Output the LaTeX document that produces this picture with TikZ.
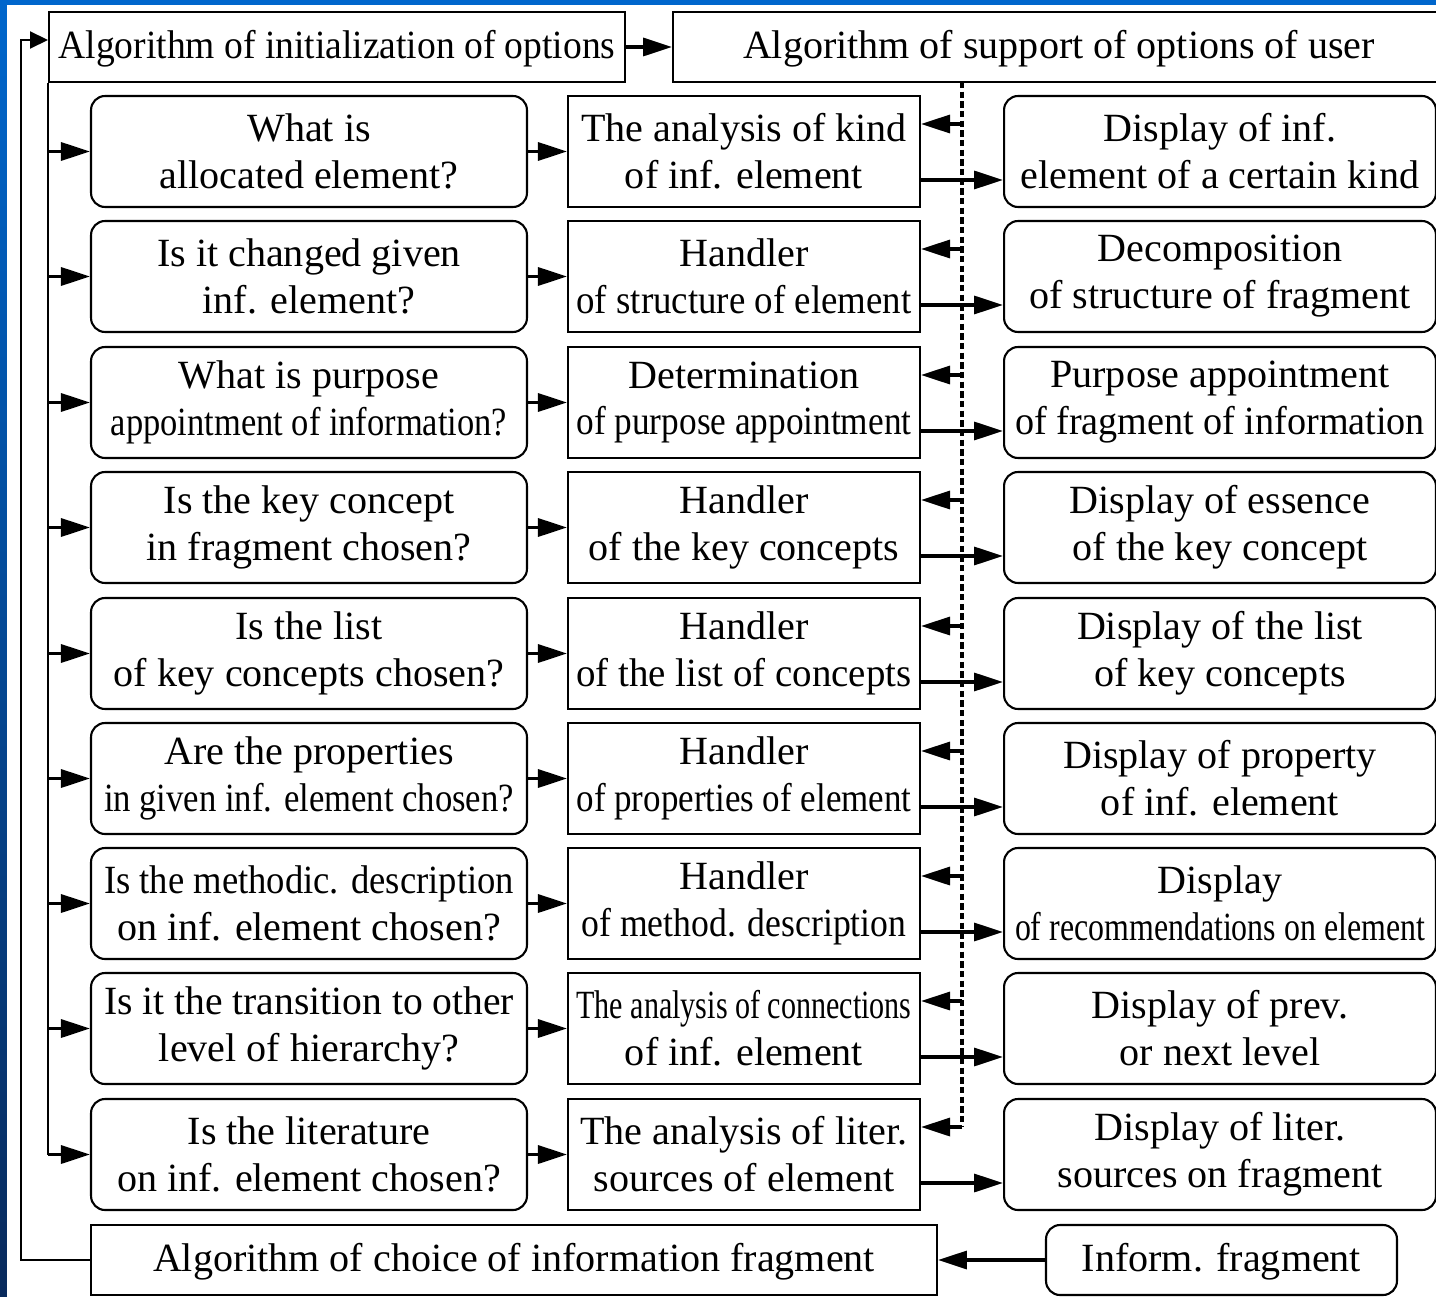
\documentclass[tikz,border=0pt]{standalone}
\usepackage{fontspec}
\setmainfont{Liberation Serif}
\usepackage{graphicx}
\usetikzlibrary{arrows.meta}

\definecolor{slideblue}{RGB}{0,102,204}
\definecolor{slidenavy}{RGB}{8,42,92}

% squeeze a line horizontally when it is wider than \fitmax
\newsavebox\flbox
\newlength\fitmax
\setlength\fitmax{100cm}
\newcommand\fl[1]{\sbox\flbox{#1}%
  \ifdim\wd\flbox>\fitmax
    \pgfmathsetmacro\flratio{\the\fitmax/\the\wd\flbox}%
    \scalebox{\flratio}[1]{\usebox\flbox}%
  \else\usebox\flbox\fi}

\tikzset{
  box/.style={draw, line width=1.2pt, inner sep=0pt, align=center,
    font=\fontsize{22.8pt}{26.7pt}\selectfont},
  question/.style={box, rounded corners=0.28cm, minimum width=8.72cm,
    minimum height=2.22cm, execute at begin node={\setlength\fitmax{8.2cm}}},
  handler/.style={box, minimum width=7.04cm, minimum height=2.22cm,
    execute at begin node={\setlength\fitmax{6.7cm}}},
  display/.style={box, rounded corners=0.28cm, minimum width=8.64cm,
    minimum height=2.22cm, execute at begin node={\setlength\fitmax{8.2cm}}},
  algo/.style={box, minimum height=1.4cm, text depth=0.1cm},
  arr/.style={line width=1.9pt, -{Triangle[length=0.58cm,width=0.36cm]}},
  bus/.style={line width=1.2pt},
  tapline/.style={line width=2pt, dash pattern=on 3.6pt off 1.9pt},
}

\begin{document}
\begin{tikzpicture}[x=0.02cm, y=-0.02cm]
  \useasboundingbox (0,0) rectangle (1436,1297);
  % slide frame
  \fill[slideblue] (0,0) rectangle (1436,5);
  \shade[top color=slideblue, bottom color=slidenavy] (0,0) rectangle (7,1297);
  \fill[white] (7,5) rectangle (1436,1297);

  \node[algo, minimum width=11.52cm, execute at begin node={\setlength\fitmax{11.14cm}}]
    (init) at (337,47) {\fl{Algorithm of initialization of options}};
  \node[algo, minimum width=15.44cm] (support) at (1059,47) {Algorithm of support of options of user};
  \node[algo, minimum width=16.92cm] (choice) at (514,1260) {Algorithm of choice of information fragment};
  \node[algo, rounded corners=0.28cm, minimum width=7.02cm] (frag) at (1221.5,1260) {Inform. fragment};

  \node[question] (q1) at (309,151.5) {\fl{What is}\\\fl{allocated element?}};
  \node[question] (q2) at (309,276.5) {\fl{Is it changed given}\\\fl{inf. element?}};
  \node[question] (q3) at (309,402.5) {\fl{What is purpose}\\\scalebox{0.86}[1]{appointment of information?}};
  \node[question] (q4) at (309,527.5) {\fl{Is the key concept}\\\fl{in fragment chosen?}};
  \node[question] (q5) at (309,653.5) {\fl{Is the list}\\\fl{of key concepts chosen?}};
  \node[question] (q6) at (309,778.5) {\fl{Are the properties}\\\fl{in given inf. element chosen?}};
  \node[question] (q7) at (309,903.5) {\fl{Is the methodic. description}\\\fl{on inf. element chosen?}};
  \node[question] (q8) at (309,1028.5) {\fl{Is it the transition to other}\\\fl{level of hierarchy?}};
  \node[question] (q9) at (309,1154.5) {\fl{Is the literature}\\\fl{on inf. element chosen?}};

  \node[handler] (h1) at (744,151.5) {\fl{The analysis of kind}\\\fl{of inf. element}};
  \node[handler] (h2) at (744,276.5) {\fl{Handler}\\\fl{of structure of element}};
  \node[handler] (h3) at (744,402.5) {\fl{Determination}\\\fl{of purpose appointment}};
  \node[handler] (h4) at (744,527.5) {\fl{Handler}\\\fl{of the key concepts}};
  \node[handler] (h5) at (744,653.5) {\fl{Handler}\\\fl{of the list of concepts}};
  \node[handler] (h6) at (744,778.5) {\fl{Handler}\\\fl{of properties of element}};
  \node[handler] (h7) at (744,903.5) {\fl{Handler}\\\scalebox{0.89}[1]{of method. description}};
  \node[handler] (h8) at (744,1028.5) {\fl{The analysis of connections}\\\fl{of inf. element}};
  \node[handler] (h9) at (744,1154.5) {\fl{The analysis of liter.}\\\fl{sources of element}};

  \node[display] (d1) at (1220,151.5) {\fl{Display of inf.}\\\fl{element of a certain kind}};
  \node[display] (d2) at (1220,276.5) {\fl{Decomposition}\\\fl{of structure of fragment}};
  \node[display] (d3) at (1220,402.5) {\fl{Purpose appointment}\\\fl{of fragment of information}};
  \node[display] (d4) at (1220,527.5) {\fl{Display of essence}\\\fl{of the key concept}};
  \node[display] (d5) at (1220,653.5) {\fl{Display of the list}\\\fl{of key concepts}};
  \node[display] (d6) at (1220,778.5) {\fl{Display of property}\\\fl{of inf. element}};
  \node[display] (d7) at (1220,903.5) {\fl{Display}\\\fl{of recommendations on element}};
  \node[display] (d8) at (1220,1028.5) {\fl{Display of prev.}\\\fl{or next level}};
  \node[display] (d9) at (1220,1154.5) {\fl{Display of liter.}\\\fl{sources on fragment}};

  \coordinate (loop) at (21,1260);
  \coordinate (tap) at (962,82);

  % outer loop and top row
  \draw[line width=1.2pt, -{Triangle[length=0.36cm,width=0.34cm]}]
    (choice.west) -- (loop) |- ([yshift=0.14cm]init.west);
  \draw[arr] (init) -- (support);
  \draw[arr] (frag) -- (choice);

  % left bus
  \draw[bus] (init.south west) -- (q9.west -| init.south west);
  \draw[arr] (q1.west -| init.south west) -- (q1.west);
  \draw[arr] (q2.west -| init.south west) -- (q2.west);
  \draw[arr] (q3.west -| init.south west) -- (q3.west);
  \draw[arr] (q4.west -| init.south west) -- (q4.west);
  \draw[arr] (q5.west -| init.south west) -- (q5.west);
  \draw[arr] (q6.west -| init.south west) -- (q6.west);
  \draw[arr] (q7.west -| init.south west) -- (q7.west);
  \draw[arr] (q8.west -| init.south west) -- (q8.west);
  \draw[arr] (q9.west -| init.south west) -- (q9.west);

  % questions to handlers
  \draw[arr] (q1) -- (h1);
  \draw[arr] (q2) -- (h2);
  \draw[arr] (q3) -- (h3);
  \draw[arr] (q4) -- (h4);
  \draw[arr] (q5) -- (h5);
  \draw[arr] (q6) -- (h6);
  \draw[arr] (q7) -- (h7);
  \draw[arr] (q8) -- (h8);
  \draw[arr] (q9) -- (h9);

  % dashed line from the support algorithm
  \draw[tapline] (tap) -- ([yshift=0.55cm]h9.east -| tap);
  \draw[arr] ([yshift=0.55cm]h1.east -| tap) -- ([yshift=0.55cm]h1.east);
  \draw[arr] ([yshift=0.55cm]h2.east -| tap) -- ([yshift=0.55cm]h2.east);
  \draw[arr] ([yshift=0.55cm]h3.east -| tap) -- ([yshift=0.55cm]h3.east);
  \draw[arr] ([yshift=0.55cm]h4.east -| tap) -- ([yshift=0.55cm]h4.east);
  \draw[arr] ([yshift=0.55cm]h5.east -| tap) -- ([yshift=0.55cm]h5.east);
  \draw[arr] ([yshift=0.55cm]h6.east -| tap) -- ([yshift=0.55cm]h6.east);
  \draw[arr] ([yshift=0.55cm]h7.east -| tap) -- ([yshift=0.55cm]h7.east);
  \draw[arr] ([yshift=0.55cm]h8.east -| tap) -- ([yshift=0.55cm]h8.east);
  \draw[arr] ([yshift=0.55cm]h9.east -| tap) -- ([yshift=0.55cm]h9.east);

  % handlers to displays
  \draw[arr] ([yshift=-0.57cm]h1.east) -- ([yshift=-0.57cm]d1.west);
  \draw[arr] ([yshift=-0.57cm]h2.east) -- ([yshift=-0.57cm]d2.west);
  \draw[arr] ([yshift=-0.57cm]h3.east) -- ([yshift=-0.57cm]d3.west);
  \draw[arr] ([yshift=-0.57cm]h4.east) -- ([yshift=-0.57cm]d4.west);
  \draw[arr] ([yshift=-0.57cm]h5.east) -- ([yshift=-0.57cm]d5.west);
  \draw[arr] ([yshift=-0.57cm]h6.east) -- ([yshift=-0.57cm]d6.west);
  \draw[arr] ([yshift=-0.57cm]h7.east) -- ([yshift=-0.57cm]d7.west);
  \draw[arr] ([yshift=-0.57cm]h8.east) -- ([yshift=-0.57cm]d8.west);
  \draw[arr] ([yshift=-0.57cm]h9.east) -- ([yshift=-0.57cm]d9.west);
\end{tikzpicture}
\end{document}
